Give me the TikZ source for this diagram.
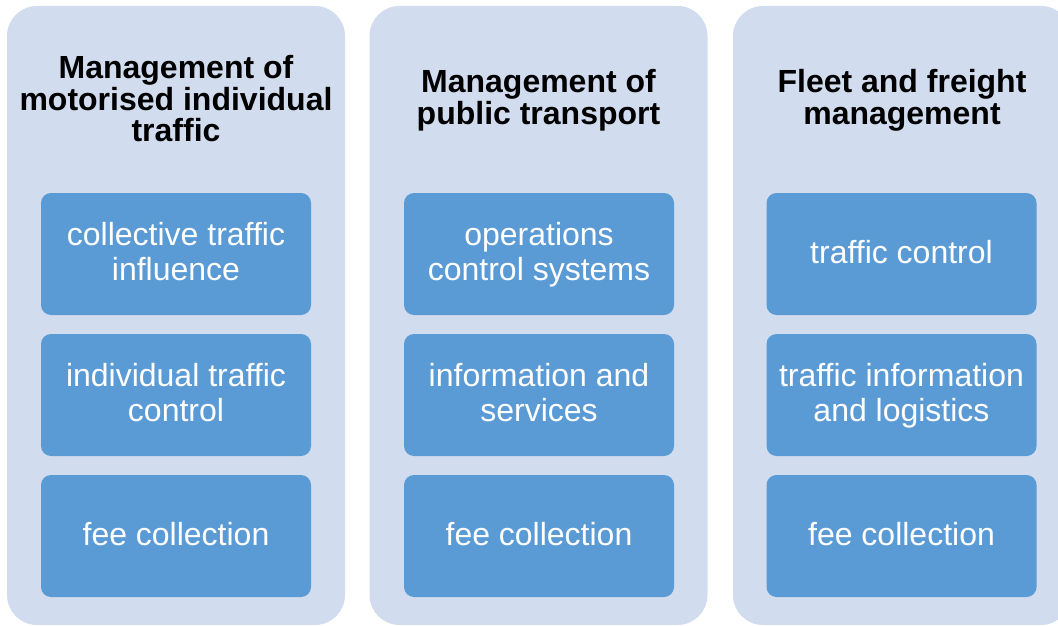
\documentclass[tikz,border=0pt]{standalone}
\usepackage{fontspec}
\setmainfont{Liberation Sans}
\definecolor{panelfill}{RGB}{209,220,238}
\definecolor{tilefill}{RGB}{91,155,213}
% line struts so every text line has the same height and depth
\newcommand{\tl}{\rule[-8pt]{0pt}{34pt}}
\newcommand{\hl}{\rule[-7pt]{0pt}{31.5pt}}
\begin{document}
\begin{tikzpicture}[x=1pt,y=-1pt,
  panel/.style={fill=panelfill, draw=none, rounded corners=30pt,
    minimum width=338pt, minimum height=619pt, inner sep=0pt},
  tile/.style={fill=tilefill, draw=none, rounded corners=10pt,
    minimum width=270pt, minimum height=122pt, inner sep=0pt,
    text=white, align=center, font=\fontsize{32}{34.8}\selectfont},
  head/.style={text=black, align=center, inner sep=0pt,
    font=\bfseries\fontsize{32}{31.6}\selectfont}]
\useasboundingbox (0,0) rectangle (1058,626);
\clip (0,0) rectangle (1058,626);

% three column panels
\node[panel] (p1) at (176,315.5) {};
\node[panel] (p2) at (538.5,315.5) {};
\node[panel] (p3) at (902,315.5) {};

% column headings
\node[head] (h1) at (176,101.5) {\hl Management of\\\hl motorised individual\\\hl traffic};
\node[head] (h2) at (538.5,99.5) {\hl Management of\\\hl public transport};
\node[head] (h3) at (902,99.5) {\hl Fleet and freight\\\hl management};

% first column tiles
\node[tile] (a1) at (176,254) {\tl collective traffic\\\tl influence};
\node[tile] (a2) at (176,395) {\tl individual traffic\\\tl control};
\node[tile] (a3) at (176,536) {\tl fee collection};

% second column tiles
\node[tile] (b1) at (539,254) {\tl operations\\\tl control systems};
\node[tile] (b2) at (539,395) {\tl information and\\\tl services};
\node[tile] (b3) at (539,536) {\tl fee collection};

% third column tiles
\node[tile] (c1) at (901.5,254) {\tl traffic control};
\node[tile] (c2) at (901.5,395) {\tl traffic information\\\tl and logistics};
\node[tile] (c3) at (901.5,536) {\tl fee collection};
\end{tikzpicture}
\end{document}
